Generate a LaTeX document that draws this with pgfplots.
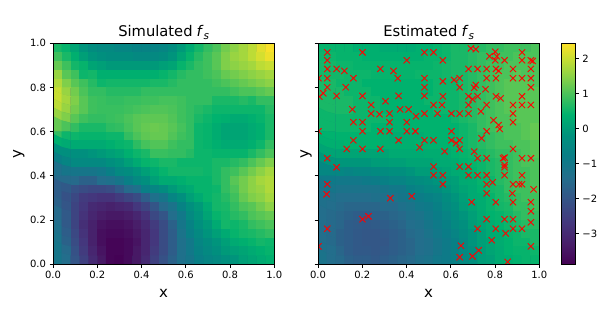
\documentclass[border=0pt]{standalone}
\usepackage{fontspec}
\setmainfont{DejaVu Sans}
\usepackage{pgfplots}
\pgfplotsset{compat=1.18}
\definecolor{under}{RGB}{30,110,135}
\pgfplotsset{
  colormap={refv}{rgb255(0pt)=(68,1,84); rgb255(58pt)=(72,30,105); rgb255(118pt)=(68,55,125); rgb255(188pt)=(52,85,135); rgb255(248pt)=(35,110,140); rgb255(308pt)=(10,125,135); rgb255(368pt)=(0,145,125); rgb255(428pt)=(0,178,110); rgb255(488pt)=(75,195,90); rgb255(538pt)=(140,210,70); rgb255(588pt)=(200,222,50); rgb255(631pt)=(253,225,40)},
  panel/.style={
    scale only axis, width=221.3pt, height=221pt,
    xmin=0, xmax=1, ymin=0, ymax=1, axis on top,
    axis background/.style={fill=under},
    xtick={0,0.2,0.4,0.6,0.8,1}, xticklabels={0.0,0.2,0.4,0.6,0.8,1.0},
    ytick={0,0.2,0.4,0.6,0.8,1},
    tick align=outside, tick pos=left, major tick length=3.5pt,
    tick style={black, line width=0.8pt}, axis line style={line width=0.8pt},
    tick label style={font=\fontsize{10}{12}\selectfont},
    xlabel style={font=\fontsize{15}{18}\selectfont, at={(axis description cs:0.5,0)}, anchor=center, yshift=-29.5pt},
    ylabel style={font=\fontsize{15}{18}\selectfont, anchor=center},
    title style={font=\fontsize{14.7}{18}\selectfont, at={(axis description cs:0.5,1)}, anchor=center, yshift=4.5pt},
    point meta min=-3.88, point meta max=2.43,
    colormap name=refv,
  },
  cells/.style={matrix plot*, mesh/cols=25, mesh/ordering=x varies, point meta=explicit, shader=faceted, faceted color=mapped color, line width=0.3pt},
  table/grid25/.style={row sep=crcr, header=false, meta index=0,
    x expr={mod(\coordindex,25)*0.04+0.02},
    y expr={0.98-floor(\coordindex/25)*0.04}},
}
\newcommand{\fs}{\kern-0.05em\textit{f}\raisebox{-0.22em}{\fontsize{10.5}{12}\selectfont\textit{s}}}
\begin{document}
\begin{tikzpicture}[x=1pt,y=1pt]
\useasboundingbox (0,0) rectangle (612,318);
\begin{axis}[panel, at={(53pt,53.7pt)}, anchor=south west,
  title={Simulated \fs}, xlabel={x}, ylabel={y},
  ylabel style={at={(axis description cs:-0.154,0.5)}},
  yticklabels={0.0,0.2,0.4,0.6,0.8,1.0}]
\addplot[cells] table[grid25] {
.6\\.45\\.15\\-.15\\-.35\\-.45\\-.45\\-.55\\-.55\\-.65\\-.65\\-.65\\-.55\\-.35\\-.05\\.25\\.55\\.8\\1\\1.3\\1.5\\1.7\\1.9\\2.2\\2.4\\
.9\\.6\\.35\\.05\\-.15\\-.25\\-.35\\-.35\\-.35\\-.45\\-.45\\-.45\\-.35\\-.15\\.15\\.45\\.7\\.9\\1.1\\1.4\\1.6\\1.7\\1.9\\2.1\\2.3\\
1.2\\.9\\.55\\.45\\.15\\.05\\-.05\\-.05\\-.05\\-.05\\-.05\\-.05\\.05\\.15\\.45\\.6\\.8\\.9\\1.1\\1.4\\1.5\\1.6\\1.7\\1.9\\2\\
1.6\\1.1\\.9\\.5\\.55\\.35\\.35\\.35\\.35\\.35\\.35\\.35\\.45\\.55\\.7\\.8\\.8\\.9\\1\\1.2\\1.3\\1.4\\1.5\\1.6\\1.7\\
1.8\\1.4\\1.1\\.9\\.7\\.5\\.55\\.55\\.55\\.55\\.55\\.6\\.6\\.7\\.8\\.8\\.8\\.8\\.9\\1\\1.1\\1.2\\1.3\\1.4\\1.5\\
2\\1.6\\1.3\\1\\.8\\.8\\.7\\.7\\.7\\.7\\.8\\.8\\.8\\.8\\.8\\.8\\.8\\.8\\.8\\.8\\.9\\1\\1\\1.1\\1.2\\
2\\1.7\\1.4\\1.1\\.9\\.85\\.8\\.8\\.85\\.85\\.9\\.9\\.95\\.95\\.9\\.8\\.8\\.8\\.6\\.6\\.6\\.7\\.6\\.8\\.8\\
1.9\\1.6\\1.3\\1.1\\.9\\.85\\.85\\.85\\.9\\.95\\1\\1.05\\1.05\\1\\.9\\.8\\.7\\.6\\.5\\.5\\.5\\.5\\.5\\.5\\.7\\
1.6\\1.4\\1.1\\.9\\.8\\.8\\.85\\.9\\1\\1.1\\1.15\\1.15\\1.15\\1.05\\.9\\.8\\.6\\.5\\.4\\.35\\.25\\.25\\.35\\.45\\.6\\
1.2\\1\\.8\\.6\\.6\\.6\\.75\\.8\\.95\\1.1\\1.2\\1.25\\1.2\\1.1\\.95\\.8\\.5\\.45\\.3\\.15\\.15\\.15\\.25\\.35\\.6\\
.8\\.5\\.5\\.45\\.45\\.45\\.5\\.5\\.8\\1\\1.15\\1.2\\1.2\\1.05\\.9\\.8\\.5\\.45\\.3\\.15\\.15\\.15\\.25\\.35\\.6\\
.35\\.25\\.25\\.25\\.25\\.25\\.35\\.45\\.5\\.75\\.95\\1.05\\1.05\\.9\\.8\\.8\\.5\\.45\\.35\\.25\\.25\\.25\\.35\\.5\\.8\\
-.25\\-.25\\-.25\\-.25\\-.15\\-.05\\.05\\.15\\.35\\.5\\.6\\.85\\.85\\.8\\.8\\.7\\.5\\.5\\.45\\.45\\.45\\.45\\.6\\.8\\1\\
-.75\\-.55\\-.45\\-.45\\-.45\\-.45\\-.25\\-.15\\.05\\.25\\.45\\.5\\.6\\.6\\.5\\.5\\.5\\.5\\.6\\.6\\.7\\.8\\1\\1.2\\1.4\\
-1.3\\-1.1\\-1.1\\-1.1\\-1.1\\-1\\-.75\\-.45\\-.35\\-.15\\.05\\.25\\.45\\.55\\.55\\.55\\.55\\.5\\.6\\.8\\.9\\1.1\\1.3\\1.5\\1.7\\
-1.5\\-1.5\\-1.5\\-1.7\\-1.7\\-1.4\\-1.3\\-1.1\\-.75\\-.45\\-.25\\.05\\.25\\.25\\.35\\.45\\.45\\.45\\.6\\.8\\1.1\\1.3\\1.5\\1.7\\1.8\\
-1.8\\-1.9\\-2.1\\-2.2\\-2.3\\-2.3\\-2.2\\-1.9\\-1.5\\-1.3\\-.75\\-.55\\-.35\\-.05\\.15\\.25\\.45\\.45\\.5\\.8\\1\\1.3\\1.5\\1.6\\1.8\\
-1.8\\-2.1\\-2.3\\-2.6\\-2.7\\-2.8\\-2.8\\-2.6\\-2.4\\-2.2\\-1.8\\-1.3\\-1.1\\-.55\\-.25\\.05\\.25\\.45\\.55\\.7\\.9\\1.2\\1.4\\1.5\\1.7\\
-1.7\\-2\\-2.4\\-2.7\\-3\\-3.1\\-3.2\\-3.1\\-3\\-2.7\\-2.4\\-2\\-1.5\\-1.2\\-.65\\-.25\\-.05\\.25\\.55\\.6\\.8\\1\\1.1\\1.3\\1.5\\
-1.5\\-1.9\\-2.4\\-2.8\\-3.1\\-3.3\\-3.4\\-3.4\\-3.3\\-3.1\\-2.8\\-2.3\\-2\\-1.4\\-1\\-.45\\-.15\\.15\\.45\\.55\\.7\\.8\\1\\1.1\\1.2\\
-1.4\\-1.9\\-2.4\\-2.9\\-3.2\\-3.5\\-3.6\\-3.6\\-3.5\\-3.3\\-3\\-2.6\\-2.2\\-1.7\\-1.1\\-.65\\-.25\\-.05\\.25\\.55\\.5\\.6\\.8\\.9\\1\\
-1.3\\-1.8\\-2.3\\-2.8\\-3.2\\-3.6\\-3.7\\-3.7\\-3.6\\-3.4\\-3.1\\-2.7\\-2.2\\-1.8\\-1.2\\-.75\\-.45\\-.15\\.05\\.25\\.45\\.55\\.6\\.7\\.8\\
-1.2\\-1.7\\-2.2\\-2.7\\-3.2\\-3.6\\-3.8\\-3.8\\-3.7\\-3.5\\-3.1\\-2.7\\-2.2\\-1.8\\-1.3\\-1\\-.55\\-.35\\-.15\\.05\\.25\\.35\\.45\\.55\\.5\\
-1.1\\-1.5\\-2.1\\-2.6\\-3.1\\-3.5\\-3.8\\-3.8\\-3.7\\-3.4\\-3.1\\-2.6\\-2.2\\-1.8\\-1.3\\-1\\-.65\\-.45\\-.25\\-.05\\.05\\.15\\.25\\.35\\.45\\
-1.1\\-1.4\\-2\\-2.5\\-3\\-3.4\\-3.8\\-3.85\\-3.7\\-3.4\\-3\\-2.5\\-2.1\\-1.7\\-1.3\\-1.1\\-.75\\-.55\\-.45\\-.25\\-.15\\.05\\.15\\.25\\.35\\
};
\end{axis}
\begin{axis}[panel, at={(318pt,53.7pt)}, anchor=south west, clip marker paths=true,
  title={Estimated \fs}, xlabel={x}, ylabel={y},
  ylabel style={at={(axis description cs:-0.054,0.5)}},
  yticklabels={},
  colorbar,
  colorbar style={at={(parent axis.south east)}, anchor=south west, xshift=13.6pt,
    scale only axis, width=14pt, height=221pt,
    ytick={-3,-2,-1,0,1,2}, yticklabels={−3,−2,−1,0,1,2},
    major tick length=3.5pt, tick align=outside, tick pos=right,
    tick style={black, line width=0.8pt}, axis line style={line width=0.8pt},
    tick label style={font=\fontsize{10}{12}\selectfont}}]
\addplot[cells] table[grid25] {
.45\\.45\\.45\\.45\\.35\\.35\\.35\\.25\\.25\\.25\\.25\\.35\\.35\\.45\\.5\\.6\\.6\\.7\\.7\\.8\\.8\\.9\\.9\\.9\\1\\
.5\\.5\\.45\\.45\\.45\\.35\\.35\\.35\\.35\\.35\\.35\\.35\\.45\\.45\\.5\\.6\\.6\\.7\\.8\\.8\\.9\\.9\\1\\1\\1\\
.55\\.55\\.5\\.5\\.45\\.45\\.45\\.45\\.45\\.45\\.45\\.45\\.45\\.5\\.55\\.6\\.6\\.7\\.8\\.9\\.9\\1\\1\\1\\1\\
.55\\.55\\.55\\.5\\.5\\.5\\.45\\.45\\.45\\.45\\.45\\.5\\.5\\.5\\.55\\.6\\.6\\.7\\.8\\.9\\1\\1\\1.1\\1\\1\\
.6\\.6\\.5\\.5\\.5\\.4\\.4\\.4\\.4\\.4\\.4\\.4\\.4\\.5\\.5\\.5\\.6\\.7\\.8\\.9\\1\\1.1\\1.1\\1.1\\1\\
.6\\.6\\.6\\.5\\.5\\.5\\.4\\.4\\.4\\.4\\.4\\.4\\.4\\.5\\.5\\.5\\.6\\.7\\.8\\.9\\1\\1.1\\1.1\\1.1\\1.1\\
.6\\.6\\.6\\.6\\.5\\.5\\.5\\.4\\.4\\.4\\.4\\.4\\.5\\.5\\.5\\.5\\.6\\.7\\.8\\.9\\1\\1.1\\1.1\\1.1\\1.1\\
.6\\.6\\.6\\.6\\.5\\.5\\.5\\.4\\.4\\.4\\.4\\.4\\.4\\.5\\.5\\.5\\.6\\.7\\.8\\.9\\1\\1.1\\1.1\\1.1\\1.1\\
.5\\.5\\.5\\.5\\.5\\.5\\.5\\.5\\.4\\.4\\.4\\.4\\.4\\.4\\.4\\.5\\.6\\.7\\.8\\.9\\1\\1\\1.1\\1.1\\1.1\\
.5\\.5\\.5\\.5\\.5\\.5\\.4\\.4\\.4\\.4\\.4\\.4\\.4\\.4\\.4\\.4\\.5\\.6\\.8\\.9\\1\\1\\1\\1.1\\1.2\\
.4\\.4\\.4\\.4\\.4\\.4\\.4\\.4\\.3\\.3\\.3\\.3\\.4\\.4\\.4\\.4\\.5\\.6\\.7\\.8\\.9\\1\\1\\1.1\\1.2\\
.35\\.35\\.35\\.4\\.4\\.4\\.4\\.35\\.35\\.35\\.35\\.4\\.4\\.4\\.4\\.45\\.5\\.6\\.7\\.8\\.9\\.9\\1\\1\\1.1\\
.15\\.15\\.15\\.15\\.15\\.15\\.15\\.15\\.25\\.25\\.25\\.25\\.3\\.3\\.3\\.4\\.45\\.5\\.6\\.7\\.8\\.8\\.9\\1\\1.1\\
-.1\\-.1\\-.1\\-.1\\-.1\\-.1\\0\\0\\.05\\.05\\.15\\.15\\.15\\.25\\.25\\.3\\.4\\.45\\.5\\.6\\.7\\.8\\.9\\1\\1\\
-.5\\-.5\\-.5\\-.6\\-.5\\-.5\\-.4\\-.35\\-.25\\-.25\\-.15\\0\\0\\.05\\.15\\.25\\.3\\.4\\.5\\.6\\.7\\.8\\.9\\.9\\1\\
-.9\\-.9\\-1\\-1\\-1\\-.9\\-.85\\-.7\\-.6\\-.6\\-.45\\-.35\\-.25\\-.15\\0\\.05\\.25\\.3\\.45\\.5\\.7\\.8\\.9\\.9\\1\\
-1.1\\-1.1\\-1.2\\-1.2\\-1.2\\-1.2\\-1.2\\-1.1\\-1\\-1\\-.7\\-.6\\-.45\\-.35\\-.15\\0\\.15\\.25\\.4\\.55\\.6\\.8\\.9\\.9\\1\\
-1.2\\-1.3\\-1.4\\-1.4\\-1.4\\-1.4\\-1.3\\-1.3\\-1.2\\-1.1\\-1\\-.85\\-.7\\-.6\\-.35\\-.15\\.05\\.25\\.3\\.45\\.6\\.7\\.8\\.9\\.9\\
-1.3\\-1.4\\-1.5\\-1.6\\-1.6\\-1.6\\-1.6\\-1.5\\-1.5\\-1.3\\-1.2\\-1\\-.9\\-.7\\-.45\\-.25\\0\\.15\\.3\\.45\\.55\\.6\\.8\\.8\\.9\\
-1.4\\-1.5\\-1.6\\-1.7\\-1.8\\-1.8\\-1.7\\-1.7\\-1.6\\-1.5\\-1.3\\-1.2\\-1\\-.8\\-.6\\-.35\\-.15\\.05\\.25\\.4\\.45\\.55\\.7\\.8\\.8\\
-1.4\\-1.5\\-1.6\\-1.8\\-1.85\\-1.9\\-1.85\\-1.8\\-1.7\\-1.6\\-1.4\\-1.3\\-1.1\\-.9\\-.7\\-.45\\-.25\\0\\.15\\.3\\.4\\.5\\.6\\.7\\.7\\
-1.4\\-1.5\\-1.7\\-1.8\\-1.9\\-1.95\\-1.95\\-1.9\\-1.8\\-1.7\\-1.5\\-1.4\\-1.2\\-1\\-.8\\-.6\\-.35\\-.15\\.05\\.25\\.3\\.45\\.5\\.6\\.6\\
-1.4\\-1.5\\-1.7\\-1.8\\-1.9\\-1.95\\-1.95\\-1.95\\-1.8\\-1.7\\-1.6\\-1.4\\-1.3\\-1.1\\-.9\\-.7\\-.45\\-.15\\.05\\.15\\.3\\.4\\.5\\.5\\.6\\
-1.3\\-1.4\\-1.6\\-1.8\\-1.9\\-1.9\\-1.95\\-1.9\\-1.8\\-1.7\\-1.6\\-1.4\\-1.3\\-1.1\\-.9\\-.7\\-.45\\-.25\\0\\.15\\.25\\.4\\.45\\.45\\.5\\
-1.2\\-1.4\\-1.5\\-1.7\\-1.8\\-1.8\\-1.9\\-1.8\\-1.7\\-1.6\\-1.5\\-1.3\\-1.2\\-1\\-.9\\-.7\\-.45\\-.25\\0\\.05\\.25\\.3\\.4\\.45\\.45\\
};
\addplot[only marks, mark=x, mark size=4.4pt, red, mark options={line width=0.9pt}] table[row sep=crcr] {
x y\\
.042 .959\\.201 .959\\.481 .959\\.042 .923\\.401 .923\\.042 .884\\.084 .884\\.119 .875\\.282 .884\\.341 .875\\
.002 .842\\.042 .842\\.160 .842\\.360 .842\\.481 .842\\.042 .801\\.125 .801\\.481 .801\\
.024 .774\\.006 .759\\.084 .762\\.201 .762\\.364 .762\\.481 .762\\.305 .738\\.240 .721\\
.155 .701\\.371 .701\\.409 .701\\.240 .682\\.278 .679\\.323 .682\\.481 .682\\.443 .670\\
.160 .643\\.201 .643\\.323 .643\\.401 .643\\.002 .602\\.201 .602\\.282 .602\\.323 .602\\.401 .602\\.440 .602\\
.160 .561\\.364 .561\\.481 .561\\.130 .522\\.201 .522\\.282 .522\\.459 .529\\
.522 .959\\.691 .977\\.713 .973\\.801 .962\\.775 .941\\.808 .941\\.922 .959\\
.564 .923\\.801 .923\\.843 .923\\.922 .923\\.962 .923\\.970 .920\\
.680 .884\\.721 .884\\.762 .884\\.804 .884\\.816 .875\\.881 .884\\.962 .884\\
.762 .842\\.804 .842\\.881 .842\\.922 .842\\.962 .842\\.564 .828\\.615 .834\\.640 .842\\
.713 .811\\.706 .799\\.640 .801\\.757 .792\\.962 .801\\
.564 .760\\.680 .760\\.721 .760\\.698 .747\\.804 .760\\.825 .751\\.922 .760\\
.522 .721\\.560 .721\\.680 .721\\.762 .721\\.881 .721\\.922 .721\\.962 .721\\
.540 .682\\.603 .682\\.640 .682\\.680 .682\\.736 .692\\.881 .682\\
.793 .652\\.881 .643\\.816 .630\\.821 .612\\.603 .602\\.762 .602\\.739 .570\\
.522 .561\\.603 .561\\.640 .561\\.624 .548\\.640 .522\\.572 .511\\.706 .510\\.881 .522\\
.042 .480\\.084 .439\\.042 .362\\.039 .317\\.327 .299\\.424 .308\\.201 .204\\.228 .217\\.042 .161\\.002 .081\\
.522 .442\\.640 .442\\.680 .442\\.522 .403\\.564 .403\\.680 .403\\.721 .403\\.762 .403\\
.721 .480\\.762 .480\\.836 .480\\.843 .483\\.922 .480\\.962 .480\\.843 .449\\.843 .439\\.843 .403\\.922 .403\\
.564 .362\\.762 .362\\.789 .371\\.881 .362\\.908 .362\\.922 .362\\.974 .339\\.762 .321\\.878 .321\\
.694 .281\\.803 .281\\.881 .281\\.962 .281\\.962 .240\\.762 .204\\.843 .204\\.881 .204\\.962 .190\\
.721 .161\\.803 .161\\.881 .161\\.922 .161\\.848 .140\\.785 .109\\.646 .084\\.962 .081\\.726 .063\\.640 .032\\.698 .036\\.857 .011\\
};
\end{axis}
\end{tikzpicture}
\end{document}
